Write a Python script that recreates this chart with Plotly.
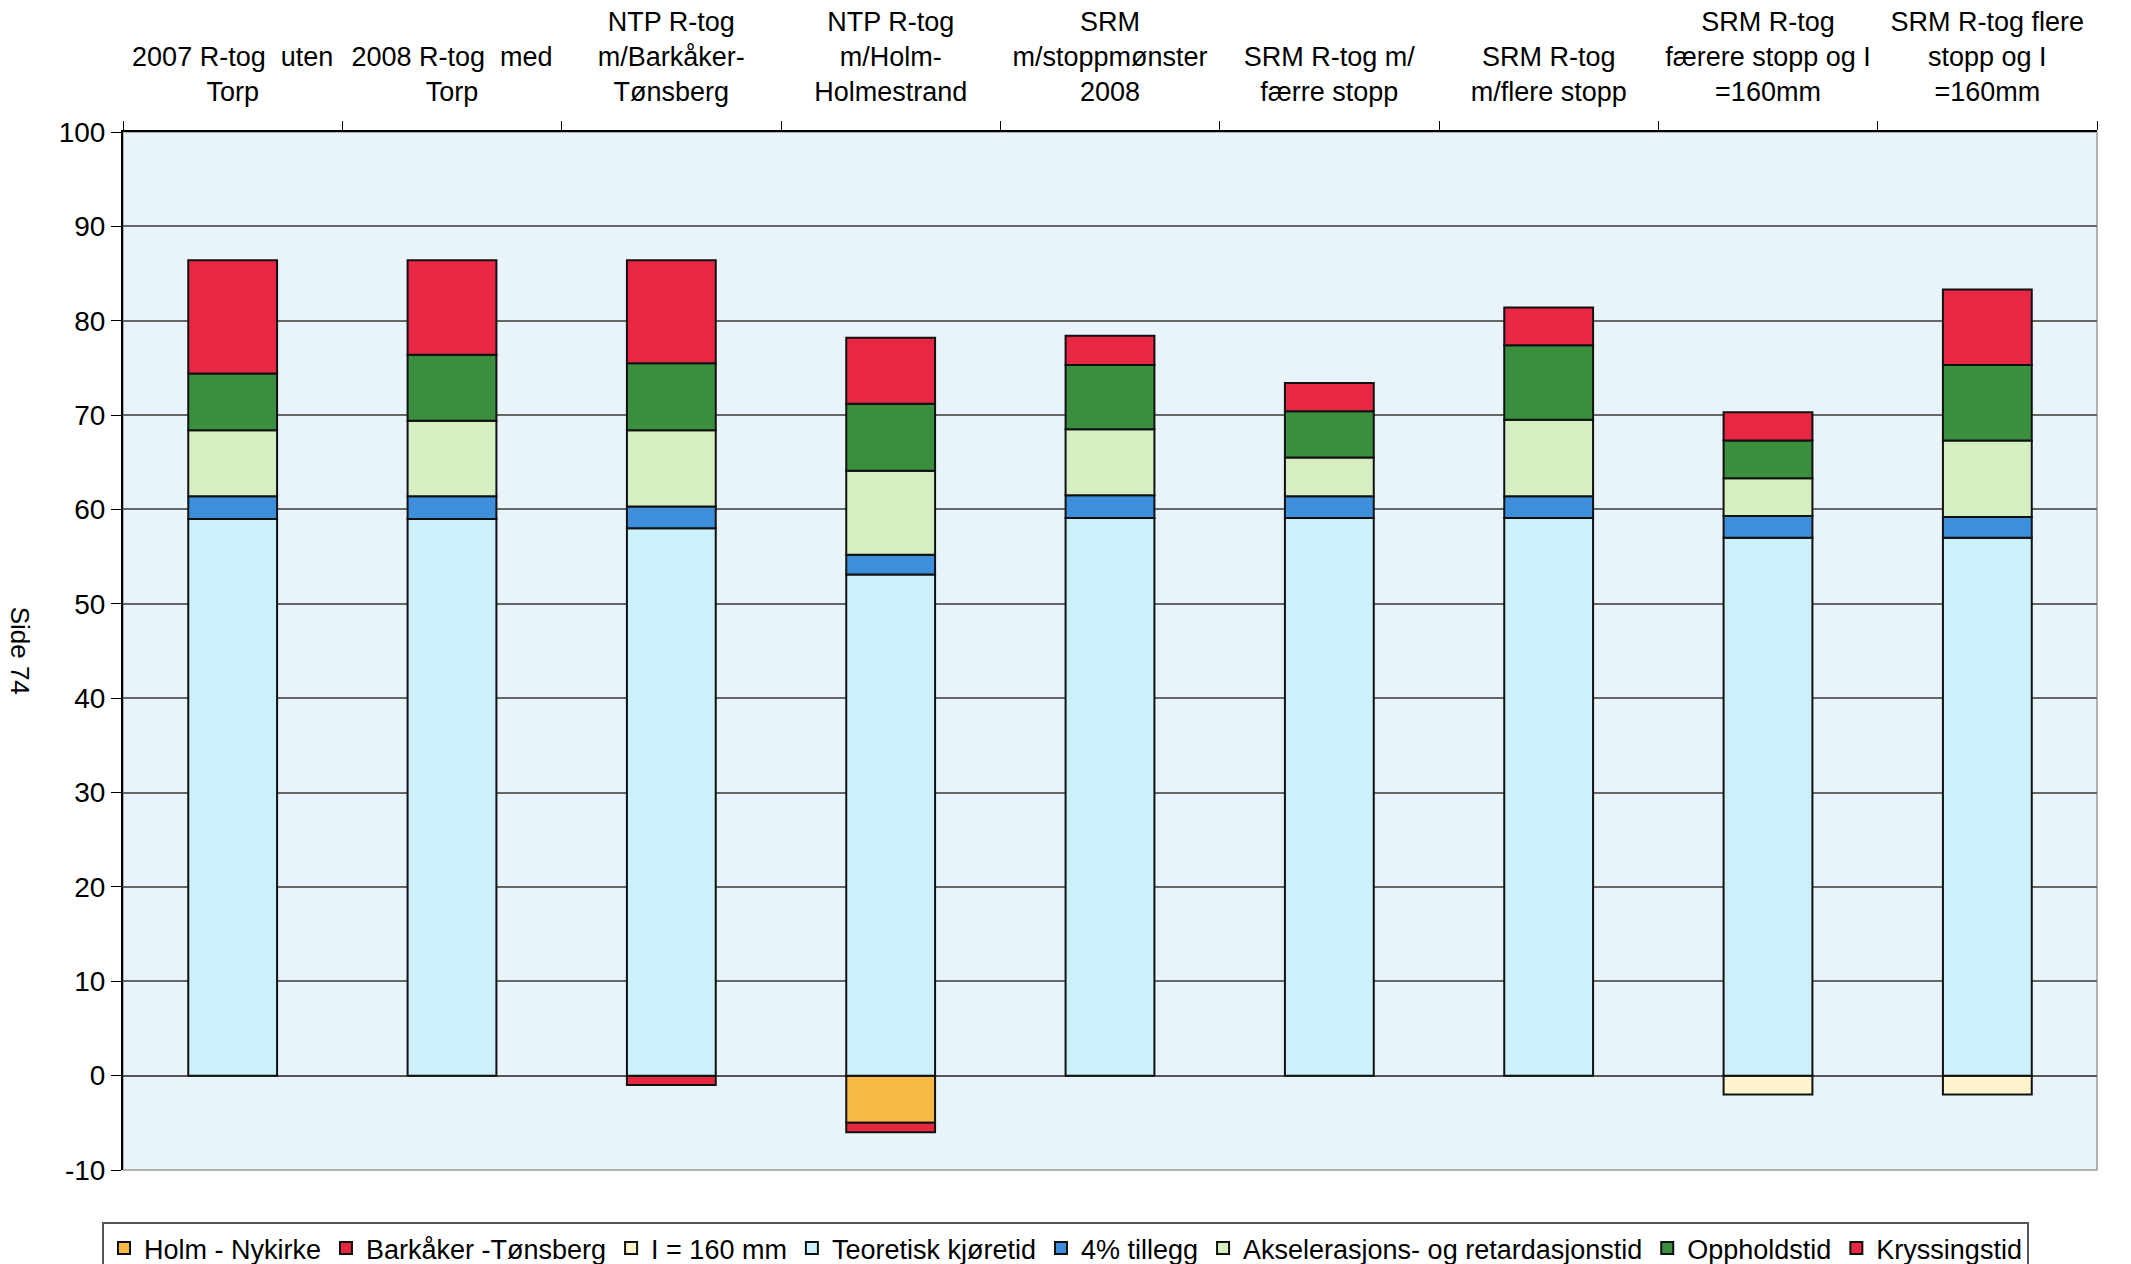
import plotly.graph_objects as go

categories = [
    "2007 R-tog  uten<br>Torp",
    "2008 R-tog  med<br>Torp",
    "NTP R-tog<br>m/Barkåker-<br>Tønsberg",
    "NTP R-tog<br>m/Holm-<br>Holmestrand",
    "SRM<br>m/stoppmønster<br>2008",
    "SRM R-tog m/<br>færre stopp",
    "SRM R-tog<br>m/flere stopp",
    "SRM R-tog<br>færere stopp og I<br>=160mm",
    "SRM R-tog flere<br>stopp og I<br>=160mm",
]

holm_nykirke = [None, None, None, -5.0, None, None, None, None, None]
barkaker_tonsberg = [None, None, -1.0, -1.0, None, None, None, None, None]
i_160 = [None, None, None, None, None, None, None, -2.0, -2.0]
teoretisk = [59.0, 59.0, 58.0, 53.1, 59.1, 59.1, 59.1, 57.0, 57.0]
tillegg4 = [2.4, 2.4, 2.3, 2.1, 2.4, 2.3, 2.3, 2.3, 2.2]
akselerasjon = [7.0, 8.0, 8.1, 8.9, 7.0, 4.1, 8.1, 4.0, 8.1]
opphold = [6.0, 7.0, 7.1, 7.1, 6.8, 4.9, 7.9, 4.0, 8.0]
kryssing = [12.0, 10.0, 10.9, 7.0, 3.1, 3.0, 4.0, 3.0, 8.0]

y_ticks = list(range(-10, 101, 10))
y_tick_labels = [str(v) for v in y_ticks]

series = [
    ("Holm - Nykirke", holm_nykirke, "#f8b844"),
    ("Barkåker -Tønsberg", barkaker_tonsberg, "#e5283d"),
    ("I = 160 mm", i_160, "#fff4cc"),
    ("Teoretisk kjøretid", teoretisk, "#cdf1fb"),
    ("4% tillegg", tillegg4, "#3e8fdb"),
    ("Akselerasjons- og retardasjonstid", akselerasjon, "#d5efc3"),
    ("Oppholdstid", opphold, "#3a8f3f"),
    ("Kryssingstid", kryssing, "#e72744"),
]

FONT = "Liberation Sans, Arial, sans-serif"

fig = go.Figure()
for name, vals, color in series:
    fig.add_trace(go.Bar(
        name=name, x=categories, y=vals,
        marker=dict(color=color, line=dict(color="#111111", width=2)),
    ))

fig.update_layout(
    width=2131, height=1264,
    barmode="relative",
    bargap=0.595,
    paper_bgcolor="white",
    plot_bgcolor="#e8f4fa",
    margin=dict(l=123, r=34, t=132, b=94, autoexpand=False),
    font=dict(family=FONT, size=27, color="black"),
    showlegend=True,
    legend=dict(
        orientation="h",
        xref="container", yref="container",
        x=0.5, xanchor="center",
        y=1 - 1222 / 1264, yanchor="top",
        bgcolor="white",
        bordercolor="#555555", borderwidth=2,
        font=dict(family=FONT, size=27, color="black"),
        traceorder="normal",
        itemwidth=30,
    ),
    xaxis=dict(
        side="top",
        type="category",
        showline=True, linecolor="black", linewidth=2,
        ticks="outside", ticklen=9, tickcolor="black", tickwidth=1,
        tickson="boundaries",
        ticklabelstandoff=18,
        tickfont=dict(family=FONT, size=27, color="black"),
        showgrid=False,
    ),
    yaxis=dict(
        range=[-10, 100],
        tickvals=y_ticks,
        ticktext=y_tick_labels,
        showline=True, linecolor="black", linewidth=2,
        ticks="outside", ticklen=10, tickcolor="black",
        tickfont=dict(family=FONT, size=28, color="black"),
        showgrid=True, gridcolor="#666666", gridwidth=1.6,
        zeroline=True, zerolinecolor="#555555", zerolinewidth=1.6,
    ),
    shapes=[
        dict(type="rect", xref="paper", yref="paper", x0=0, x1=1, y0=0, y1=1,
             line=dict(color="#9a9a9a", width=1.5), layer="below"),
    ],
    annotations=[
        dict(text="Side 74", textangle=90, xref="paper", yref="paper",
             x=-0.052, y=0.5, xanchor="center", yanchor="middle",
             showarrow=False, font=dict(family=FONT, size=26, color="black")),
    ],
)

fig.write_html(
    "out.html",
    config={"displayModeBar": False},
    post_script="document.body.style.margin='0';",
)
